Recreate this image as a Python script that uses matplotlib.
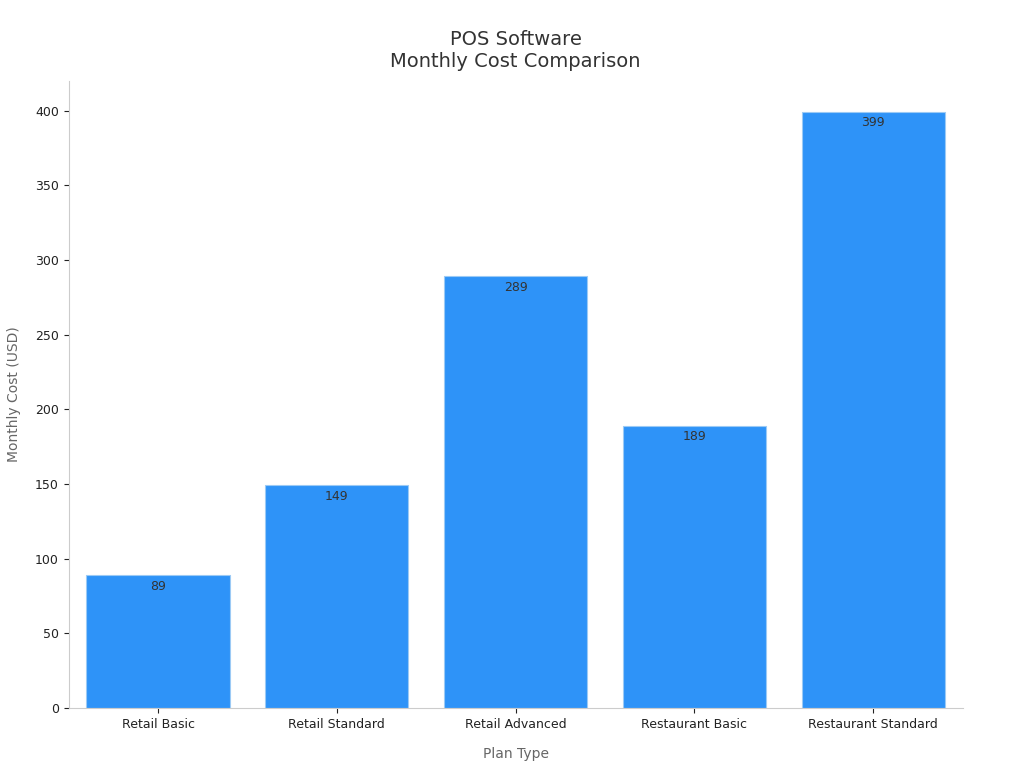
import matplotlib.pyplot as plt

plans = ['Retail Basic', 'Retail Standard', 'Retail Advanced', 'Restaurant Basic', 'Restaurant Standard']
costs = [89, 149, 289, 189, 399]

fig, ax = plt.subplots(figsize=(10.24, 7.68), dpi=100)
fig.subplots_adjust(left=0.067, right=0.94, top=0.895, bottom=0.078)

bars = ax.bar(plans, costs, width=0.8, color='#2e93f8', edgecolor='#9ccaf5', linewidth=0.8)
for b, v in zip(bars, costs):
    ax.text(b.get_x() + b.get_width() / 2, v - 3, str(v), ha='center', va='top',
            fontsize=9, color='#333333')

ax.set_ylim(0, 420)
ax.set_xlim(-0.5, 4.5)
ax.set_yticks(range(0, 401, 50))
ax.set_title('POS Software\nMonthly Cost Comparison', fontsize=14, color='#333333', pad=10)
ax.set_xlabel('Plan Type', fontsize=10, color='#666666', labelpad=12)
ax.set_ylabel('Monthly Cost (USD)', fontsize=10, color='#666666', labelpad=10)
ax.tick_params(labelsize=9, colors='#222222')
for s in ['top', 'right']:
    ax.spines[s].set_visible(False)
for s in ['left', 'bottom']:
    ax.spines[s].set_color('#cccccc')

plt.savefig('out.png')
